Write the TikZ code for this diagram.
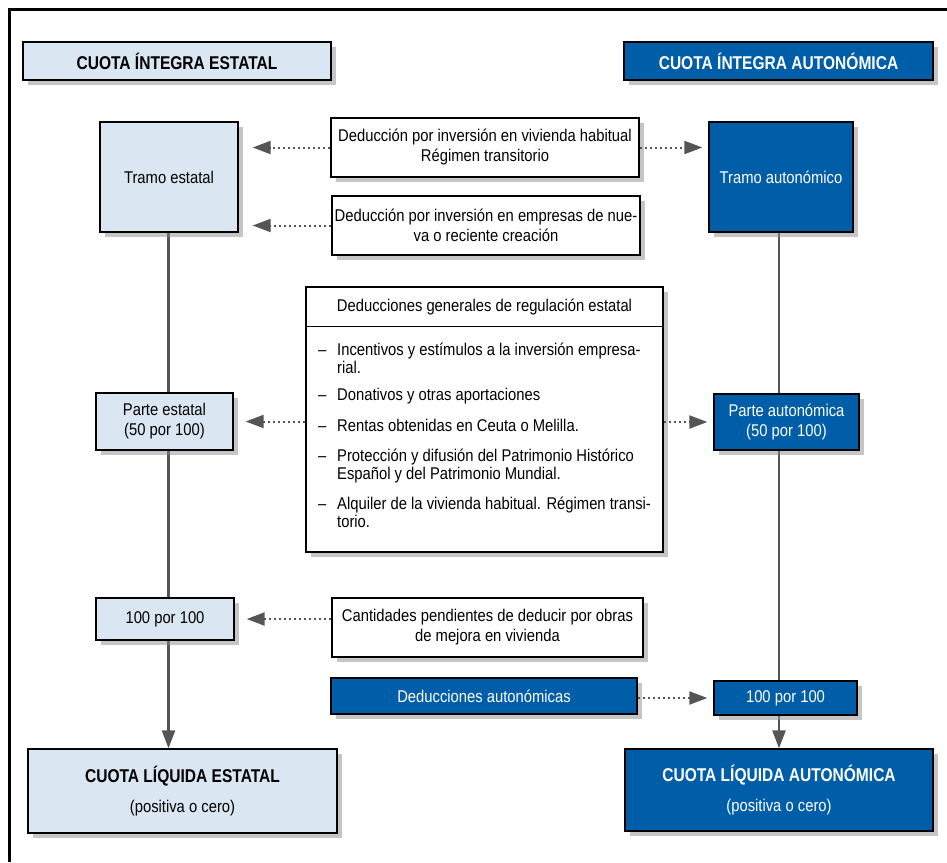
\documentclass[tikz,border=0pt]{standalone}
\usepackage{fontspec}
\setmainfont[FakeStretch=0.87]{Liberation Sans}
\newfontfamily\titulo[FakeStretch=0.84]{Liberation Sans}
\usetikzlibrary{arrows.meta,shadows,backgrounds}
\definecolor{azulclaro}{RGB}{218,230,241}
\definecolor{azulosc}{RGB}{0,93,168}
\definecolor{gris}{RGB}{85,85,85}
\tikzset{
  caja/.style={draw=black, line width=1.3pt, inner sep=2pt, align=center,
    drop shadow={shadow xshift=5pt, shadow yshift=-5pt, fill=black!45},
    font=\fontsize{17}{20}\selectfont},
  clara/.style={caja, fill=azulclaro},
  oscura/.style={caja, fill=azulosc, text=white},
  blanca/.style={caja, fill=white},
  cabecera/.style={font=\titulo\bfseries\fontsize{18.5}{20}\selectfont},
  lista/.style={anchor=base west, inner sep=0pt, align=left, font=\fontsize{17}{17.5}\selectfont},
  linea/.style={gris, line width=2.6pt, -{Triangle[length=18pt,width=13pt]}},
  flecha/.style={gris, line width=2pt, dash pattern=on 2pt off 3pt,
    -{Triangle[length=18pt,width=13pt]}, shorten >=#1},
  flecha/.default=6pt
}
\newcommand{\guion}{\makebox[19pt][l]{--}}
\begin{document}
\begin{tikzpicture}[x=1pt,y=-1pt]
\useasboundingbox (0,0) rectangle (947,862);
% Marco
\draw[line width=3pt] (9,862) -- (9,9) -- (947,9);
% Cuotas integras
\node[clara, cabecera, minimum width=308pt, minimum height=38pt] (ciE) at (177,61) {CUOTA ÍNTEGRA ESTATAL};
\node[oscura, cabecera, minimum width=309pt, minimum height=38pt] (ciA) at (778.5,61) {CUOTA ÍNTEGRA AUTONÓMICA};
% Tramos
\node[clara, minimum width=138pt, minimum height=110pt] (tE) at (169,177) {Tramo estatal};
\node[oscura, minimum width=144pt, minimum height=110pt] (tA) at (781,177) {Tramo autonómico};
% Deducciones de la cuota
\node[blanca, minimum width=308pt, minimum height=59pt] (vE) at (485,147.5) {Deducción por inversión en vivienda habitual\\Régimen transitorio};
\node[blanca, minimum width=308pt, minimum height=59pt] (eE) at (486,225.5) {Deducción por inversión en empresas de nue-\\va o reciente creación};
% Deducciones generales
\node[blanca, minimum width=357pt, minimum height=265pt] (gen) at (484.5,419.5) {};
\node[anchor=north, minimum width=357pt, minimum height=40pt, font=\fontsize{17}{20}\selectfont] (genT) at (gen.north) {Deducciones generales de regulación estatal};
\draw[line width=1.3pt] (genT.south west) -- (genT.south east);
\node[lista] (i1) at (318,373) {\guion Incentivos y estímulos a la inversión empresa-\\\hspace*{19pt}rial.};
\node[lista] (i2) at (318,400) {\guion Donativos y otras aportaciones};
\node[lista] (i3) at (318,431) {\guion Rentas obtenidas en Ceuta o Melilla.};
\node[lista] (i4) at (318,479) {\guion Protección y difusión del Patrimonio Histórico\\\hspace*{19pt}Español y del Patrimonio Mundial.};
\node[lista] (i5) at (318,527) {\guion Alquiler de la vivienda habitual. Régimen transi-\\\hspace*{19pt}torio.};
% Partes
\node[clara, minimum width=137pt, minimum height=57pt] (pE) at (164.5,421.5) {Parte estatal\\(50 por 100)};
\node[oscura, minimum width=145pt, minimum height=56pt] (pA) at (786.5,422) {Parte autonómica\\(50 por 100)};
\node[clara, minimum width=138pt, minimum height=42pt] (cE) at (165,619) {100 por 100};
\node[blanca, minimum width=311pt, minimum height=59pt] (cant) at (487.5,627.5) {Cantidades pendientes de deducir por obras\\de mejora en vivienda};
\node[oscura, minimum width=306pt, minimum height=36pt] (dA) at (484,696) {Deducciones autonómicas};
\node[oscura, minimum width=143pt, minimum height=34pt] (cA) at (785.5,698) {100 por 100};
% Cuotas liquidas
\node[clara, minimum width=309pt, minimum height=84pt] (lE) at (182.5,791) {{\titulo\bfseries\fontsize{18.5}{20}\selectfont CUOTA LÍQUIDA ESTATAL}\\[10pt](positiva o cero)};
\node[oscura, minimum width=308pt, minimum height=82pt] (lA) at (779,790) {{\titulo\bfseries\fontsize{18.5}{20}\selectfont CUOTA LÍQUIDA AUTONÓMICA}\\[10pt](positiva o cero)};
% Ejes verticales
\coordinate (ejeE) at (168.5,0);
\coordinate (ejeA) at (779,0);
\begin{scope}[on background layer]
\draw[linea] (tE.south -| ejeE) -- (lE.north -| ejeE);
\draw[linea] (tA.south -| ejeA) -- (lA.north -| ejeA);
\end{scope}
% Flechas punteadas
\draw[flecha=14pt] (vE.west) -- (vE.west -| tE.east);
\draw[flecha] (vE.east) -- (vE.east -| tA.west);
\draw[flecha=14pt] (eE.west) -- (eE.west -| tE.east);
\draw[flecha=12pt] (gen.west |- pE.east) -- (pE.east);
\draw[flecha] (gen.east |- pA.west) -- (pA.west);
\draw[flecha=12pt] (cant.west |- cE.east) -- (cE.east);
\draw[flecha] (dA.east |- cA.west) -- (cA.west);
\end{tikzpicture}
\end{document}
